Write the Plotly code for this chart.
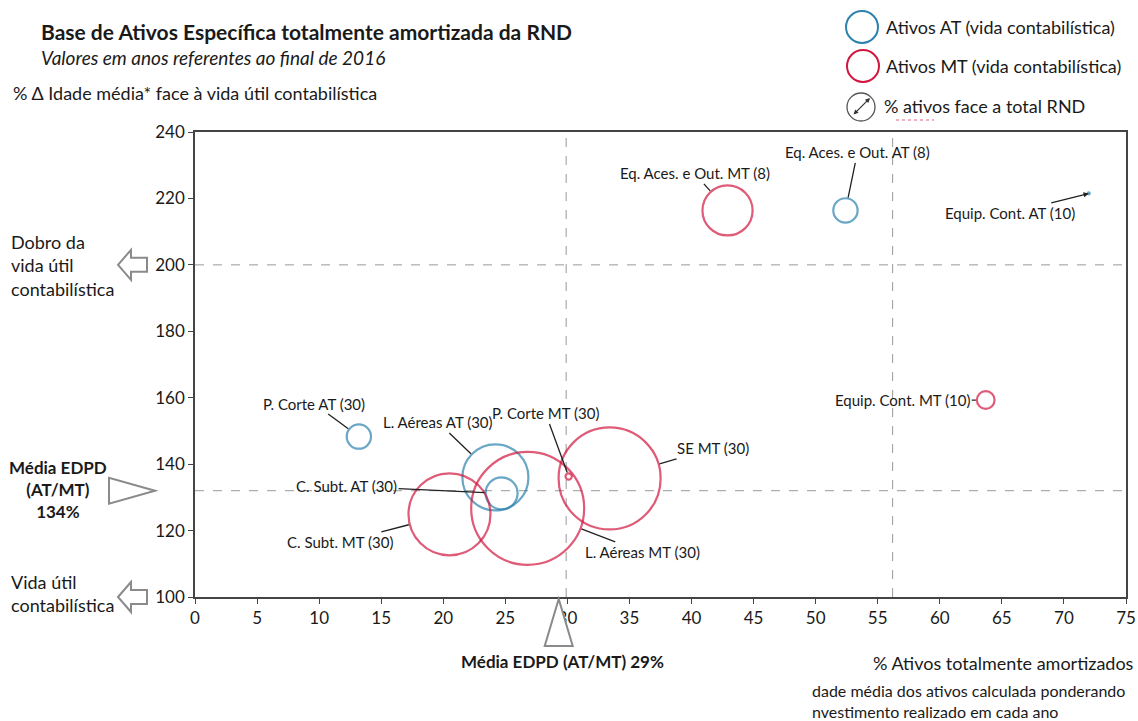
import math
import plotly.graph_objects as go

# ---------------- data ----------------
names = ["P. Corte AT (30)", "L. Aéreas AT (30)", "C. Subt. AT (30)", "Eq. Aces. e Out. AT (8)",
         "Equip. Cont. AT (10)",
         "P. Corte MT (30)", "SE MT (30)", "C. Subt. MT (30)", "L. Aéreas MT (30)",
         "Eq. Aces. e Out. MT (8)", "Equip. Cont. MT (10)"]
groups = ["AT", "AT", "AT", "AT", "AT", "MT", "MT", "MT", "MT", "MT", "MT"]
pct_amortized = [13.2, 24.2, 24.7, 52.4, 72.0, 30.1, 33.4, 20.5, 26.8, 42.9, 63.7]
age_vs_life = [148.3, 136.0, 131.2, 216.4, 221.5, 136.3, 135.7, 124.9, 126.7, 216.4, 159.3]
share_rnd = [1.5, 11.1, 2.6, 1.5, 0.01, 0.1, 26.5, 17.1, 32.5, 6.4, 0.8]
# label offsets (px) relative to bubble centre
label_dx = [-45, -57, -155, 12, -79, -23, 103, -109, 115, -33, -83]
label_dy = [-33, -55, -7, -58, 20, -63, -30, 28, 44, -37, 0]

x_ticks = list(range(0, 80, 5))
y_ticks = list(range(100, 260, 20))
x_range = [0, 75]
y_range = [100, 240]
avg_x = 29.9
ref_x2 = 56.2
avg_y = 132
double_life = 200
life = 100

BLUE = "#2A82AD"
RED = "#D2163E"
GREY = "#8A8A8A"
FONT = "Lato"
TXT = "#1a1a1a"

# plot area in reference-picture pixels
L, R, T, B = 195, 1126, 132, 597
W, H = 1138, 721


def px(xp):
    return (xp - L) / (R - L)


def py(yp):
    return (B - yp) / (B - T)


def yfrac(v):
    return (v - y_range[0]) / (y_range[1] - y_range[0])


max_d = 113
sizeref = 2 * max(share_rnd) / max_d ** 2

fig = go.Figure()
for g, col in (("AT", BLUE), ("MT", RED)):
    idx = [i for i, gg in enumerate(groups) if gg == g]
    fig.add_trace(go.Scatter(
        x=[pct_amortized[i] for i in idx],
        y=[age_vs_life[i] for i in idx],
        mode="markers",
        marker=dict(size=[share_rnd[i] for i in idx], sizemode="area", sizeref=sizeref, sizemin=1,
                    color="rgba(0,0,0,0)", line=dict(color=col, width=2.2)),
        showlegend=False, hoverinfo="text", text=[names[i] for i in idx]))

annotations = []
for i, n in enumerate(names):
    r = math.sqrt(share_rnd[i] / (2 * sizeref))
    is_dot = share_rnd[i] < 0.05
    annotations.append(dict(
        x=pct_amortized[i], y=age_vs_life[i], xref="x", yref="y",
        text=n, showarrow=True, ax=label_dx[i], ay=label_dy[i],
        arrowhead=2 if is_dot else 0, arrowsize=0.8, arrowwidth=1.3, arrowcolor="#222",
        standoff=0 if is_dot else r + 1,
        font=dict(family=FONT, size=15, color=TXT)))


def txt(x, y, text, size, xanchor="left", align="left"):
    return dict(x=px(x), y=py(y), xref="paper", yref="paper", xanchor=xanchor, yanchor="middle",
                align=align, text=text, showarrow=False, font=dict(family=FONT, size=size, color=TXT))


annotations += [
    txt(39, 32, "<b>Base de Ativos Específica totalmente amortizada da RND</b>", 21),
    txt(39, 58, "<i>Valores em anos referentes ao final de 2016</i>", 19),
    txt(11, 93, "% Δ Idade média* face à vida útil contabilística", 18),
    txt(884, 27, "Ativos AT (vida contabilística)", 18),
    txt(884, 66, "Ativos MT (vida contabilística)", 18),
    txt(882, 106, "% ativos face a total RND", 18),
    dict(x=px(870), y=py(98), xref="paper", yref="paper", ax=-18, ay=18, text="", showarrow=True,
         arrowside="end+start", arrowhead=2, arrowsize=0.8, arrowwidth=1.2, arrowcolor="#333"),
    txt(9, 265, "Dobro da<br>vida útil<br>contabilística", 18),
    txt(58, 489, "<b>Média EDPD<br>(AT/MT)<br>134%</b>", 17, xanchor="center", align="center"),
    txt(9, 593, "Vida útil<br>contabilística", 18),
    txt(562, 661, "<b>Média EDPD (AT/MT) 29%</b>", 17, xanchor="center", align="center"),
    dict(x=px(1136), y=py(663), xref="paper", yref="paper", xanchor="right", yanchor="middle",
         text="% Ativos totalmente amortizados", showarrow=False, font=dict(family=FONT, size=18, color=TXT)),
    txt(810, 690, "dade média dos ativos calculada ponderando", 16),
    txt(810, 711, "nvestimento realizado em cada ano", 16),
]

shapes = []
# reference lines
for yv in (double_life, avg_y):
    shapes.append(dict(type="line", xref="paper", yref="y", x0=0, x1=1, y0=yv, y1=yv,
                       line=dict(color="#9a9a9a", width=1, dash="dash"), layer="below"))
for xv in (avg_x, ref_x2):
    shapes.append(dict(type="line", xref="x", yref="paper", x0=xv, x1=xv, y0=0, y1=1,
                       line=dict(color="#9a9a9a", width=1, dash="dash"), layer="below"))

# legend icons
for cx, cy, r, col, w in ((862, 27, 16, BLUE, 2), (863, 66, 16, RED, 2), (861, 107, 14, "#555", 1.3)):
    shapes.append(dict(type="circle", xref="paper", yref="paper", xsizemode="pixel", ysizemode="pixel",
                       xanchor=px(cx), yanchor=py(cy), x0=-r, x1=r, y0=-r, y1=r,
                       line=dict(color=col, width=w)))
shapes.append(dict(type="line", xref="paper", yref="paper", x0=px(896), x1=px(934), y0=py(120), y1=py(120),
                   line=dict(color="#e06080", width=1, dash="dot")))

# block arrows pointing left (pixel paths, anchored at tip)
arrow_left = "M 0 0 L 13 15 L 13 7 L 29 7 L 29 -7 L 13 -7 L 13 -15 Z"
for yv in (double_life, life):
    shapes.append(dict(type="path", xref="paper", yref="paper", xsizemode="pixel", ysizemode="pixel",
                       xanchor=px(118), yanchor=yfrac(yv), path=arrow_left,
                       line=dict(color=GREY, width=2), fillcolor="white"))
# triangle pointing right at average y
shapes.append(dict(type="path", xref="paper", yref="paper", xsizemode="pixel", ysizemode="pixel",
                   xanchor=px(155), yanchor=yfrac(avg_y), path="M 0 0 L -46 13 L -46 -13 Z",
                   line=dict(color=GREY, width=2), fillcolor="white"))
# triangle pointing up at average x
shapes.append(dict(type="path", xref="x", yref="paper", xsizemode="pixel", ysizemode="pixel",
                   xanchor=avg_x - 0.6, yanchor=py(599), path="M 0 0 L -14 -47 L 14 -47 Z",
                   line=dict(color=GREY, width=2), fillcolor="white", layer="above"))

fig.update_layout(
    width=W, height=H,
    margin=dict(l=L, r=W - R, t=T, b=H - B, autoexpand=False),
    paper_bgcolor="white", plot_bgcolor="white",
    font=dict(family=FONT, size=16, color=TXT),
    xaxis=dict(range=x_range, tickvals=x_ticks, ticktext=[str(v) for v in x_ticks],
               showgrid=False, zeroline=False, showline=True, linecolor="#444", linewidth=1.5,
               mirror=True, ticks="outside", ticklen=5, tickcolor="#444",
               tickfont=dict(family=FONT, size=17, color=TXT)),
    yaxis=dict(range=y_range, tickvals=y_ticks, ticktext=[str(v) for v in y_ticks],
               showgrid=False, zeroline=False, showline=True, linecolor="#444", linewidth=1.5,
               mirror=True, ticks="outside", ticklen=5, tickcolor="#444",
               tickfont=dict(family=FONT, size=17, color=TXT)),
    annotations=annotations, shapes=shapes, showlegend=False,
)

fig.write_html("out.html", config={"displayModeBar": False},
               post_script="document.body.style.margin='0';document.body.style.overflow='hidden';")
